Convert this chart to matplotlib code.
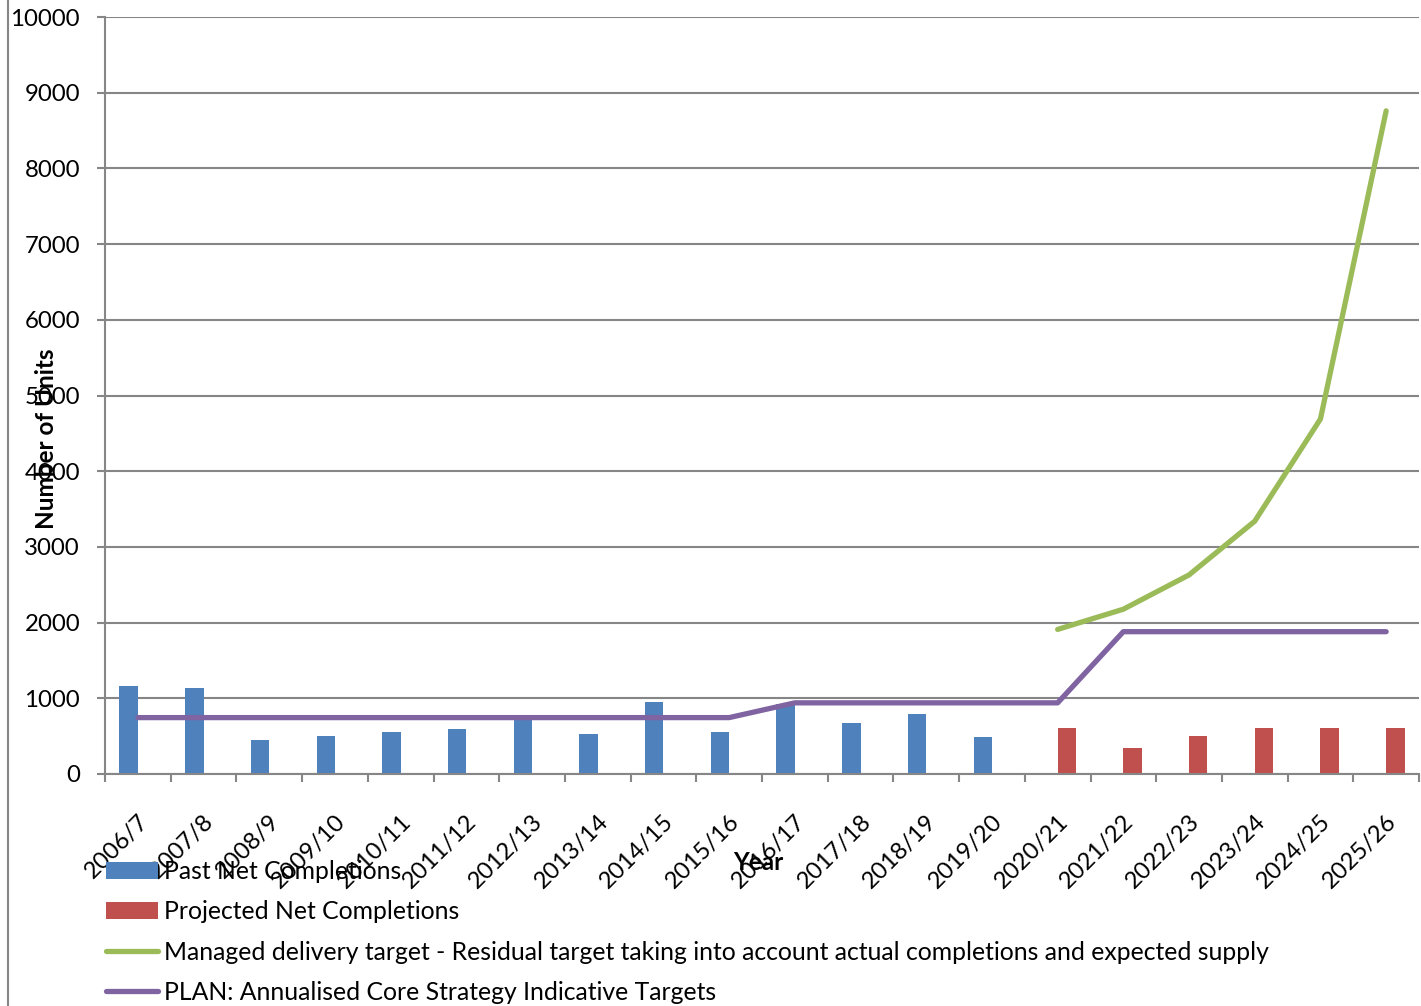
import numpy as np
import matplotlib
matplotlib.use('Agg')
import matplotlib.pyplot as plt
import matplotlib.transforms as mtransforms
from matplotlib.lines import Line2D

plt.rcParams['font.family'] = ['Lato', 'DejaVu Sans']

years = ['2006/7', '2007/8', '2008/9', '2009/10', '2010/11', '2011/12', '2012/13',
         '2013/14', '2014/15', '2015/16', '2016/17', '2017/18', '2018/19', '2019/20',
         '2020/21', '2021/22', '2022/23', '2023/24', '2024/25', '2025/26']

# past completions (2006/7 - 2019/20), projected (2020/21 - 2025/26)
past_net = [1165, 1135, 450, 505, 555, 598, 755, 532, 956, 555, 925, 675, 794, 492,
            np.nan, np.nan, np.nan, np.nan, np.nan, np.nan]
projected_net = [np.nan] * 14 + [612, 340, 505, 612, 606, 606]
managed_target = [np.nan] * 14 + [1910, 2177, 2630, 3340, 4690, 8760]
plan_target = [745] * 10 + [940] * 5 + [1880] * 5

blue = '#4F81BD'
red = '#C0504D'
green = '#9BBB59'
purple = '#8064A2'
grid_c = '#868686'

fig = plt.figure(figsize=(14.21, 10.06), dpi=100)
ax = fig.add_axes([105 / 1421, 1 - 774 / 1006, 1314 / 1421, 757 / 1006])

x = np.arange(len(years))
w = 0.28
b1 = ax.bar(x - w / 2, past_net, width=w, color=blue, zorder=2)
b2 = ax.bar(x + w / 2, projected_net, width=w, color=red, zorder=2)
l1, = ax.plot(x, managed_target, color=green, lw=3.8, solid_capstyle='round', zorder=3)
l2, = ax.plot(x, plan_target, color=purple, lw=3.8, solid_capstyle='round', zorder=3)

ax.set_xlim(-0.5, len(years) - 0.5)
ax.set_ylim(0, 10000)
ax.set_yticks(np.arange(0, 10001, 1000))
ax.yaxis.grid(True, color=grid_c, lw=1.5, zorder=0)

# category boundary ticks on x
ax.set_xticks(np.arange(-0.5, len(years), 1.0))
ax.set_xticklabels([])
ax.set_xticks(x, minor=True)
ax.set_xticklabels(years, minor=True, rotation=45, ha='right', va='center',
                   rotation_mode='anchor', fontsize=17.2)
ax.tick_params(axis='x', which='minor', length=0, pad=32)
ax.tick_params(axis='x', which='major', length=6, width=1.5, color=grid_c)
ax.tick_params(axis='y', length=6, width=1.5, color=grid_c, labelsize=17.3, pad=12)

shift = mtransforms.ScaledTranslation(7 / 100, 0, fig.dpi_scale_trans)
for lbl in ax.get_xticklabels(minor=True):
    lbl.set_transform(lbl.get_transform() + shift)

for s in ['top', 'right']:
    ax.spines[s].set_visible(False)
for s in ['left', 'bottom']:
    ax.spines[s].set_color(grid_c)
    ax.spines[s].set_linewidth(1.5)

fig.text(47 / 1421, 1 - 439 / 1006, 'Number of Units', rotation=90, ha='center',
         va='center', fontsize=17.5, fontweight='bold')
fig.text(758 / 1421, 1 - 862 / 1006, 'Year', ha='center', va='center',
         fontsize=17.5, fontweight='bold')

# chart-area border at left
fig.add_artist(Line2D([8 / 1421, 8 / 1421], [0, 1], color=grid_c, lw=1.5,
                      transform=fig.transFigure))

handles = [b1, b2, l1, l2]
labels = ['Past Net Completions', 'Projected Net Completions',
          'Managed delivery target - Residual target taking into account actual completions and expected supply',
          'PLAN: Annualised Core Strategy Indicative Targets']
fig.legend(handles, labels, loc='upper left', bbox_to_anchor=(106 / 1421, 1 - 860 / 1006),
           frameon=False, fontsize=17.8, handlelength=2.1, handletextpad=0.25,
           labelspacing=0.7, borderaxespad=0, borderpad=0)

fig.savefig('out.png', dpi=100)
